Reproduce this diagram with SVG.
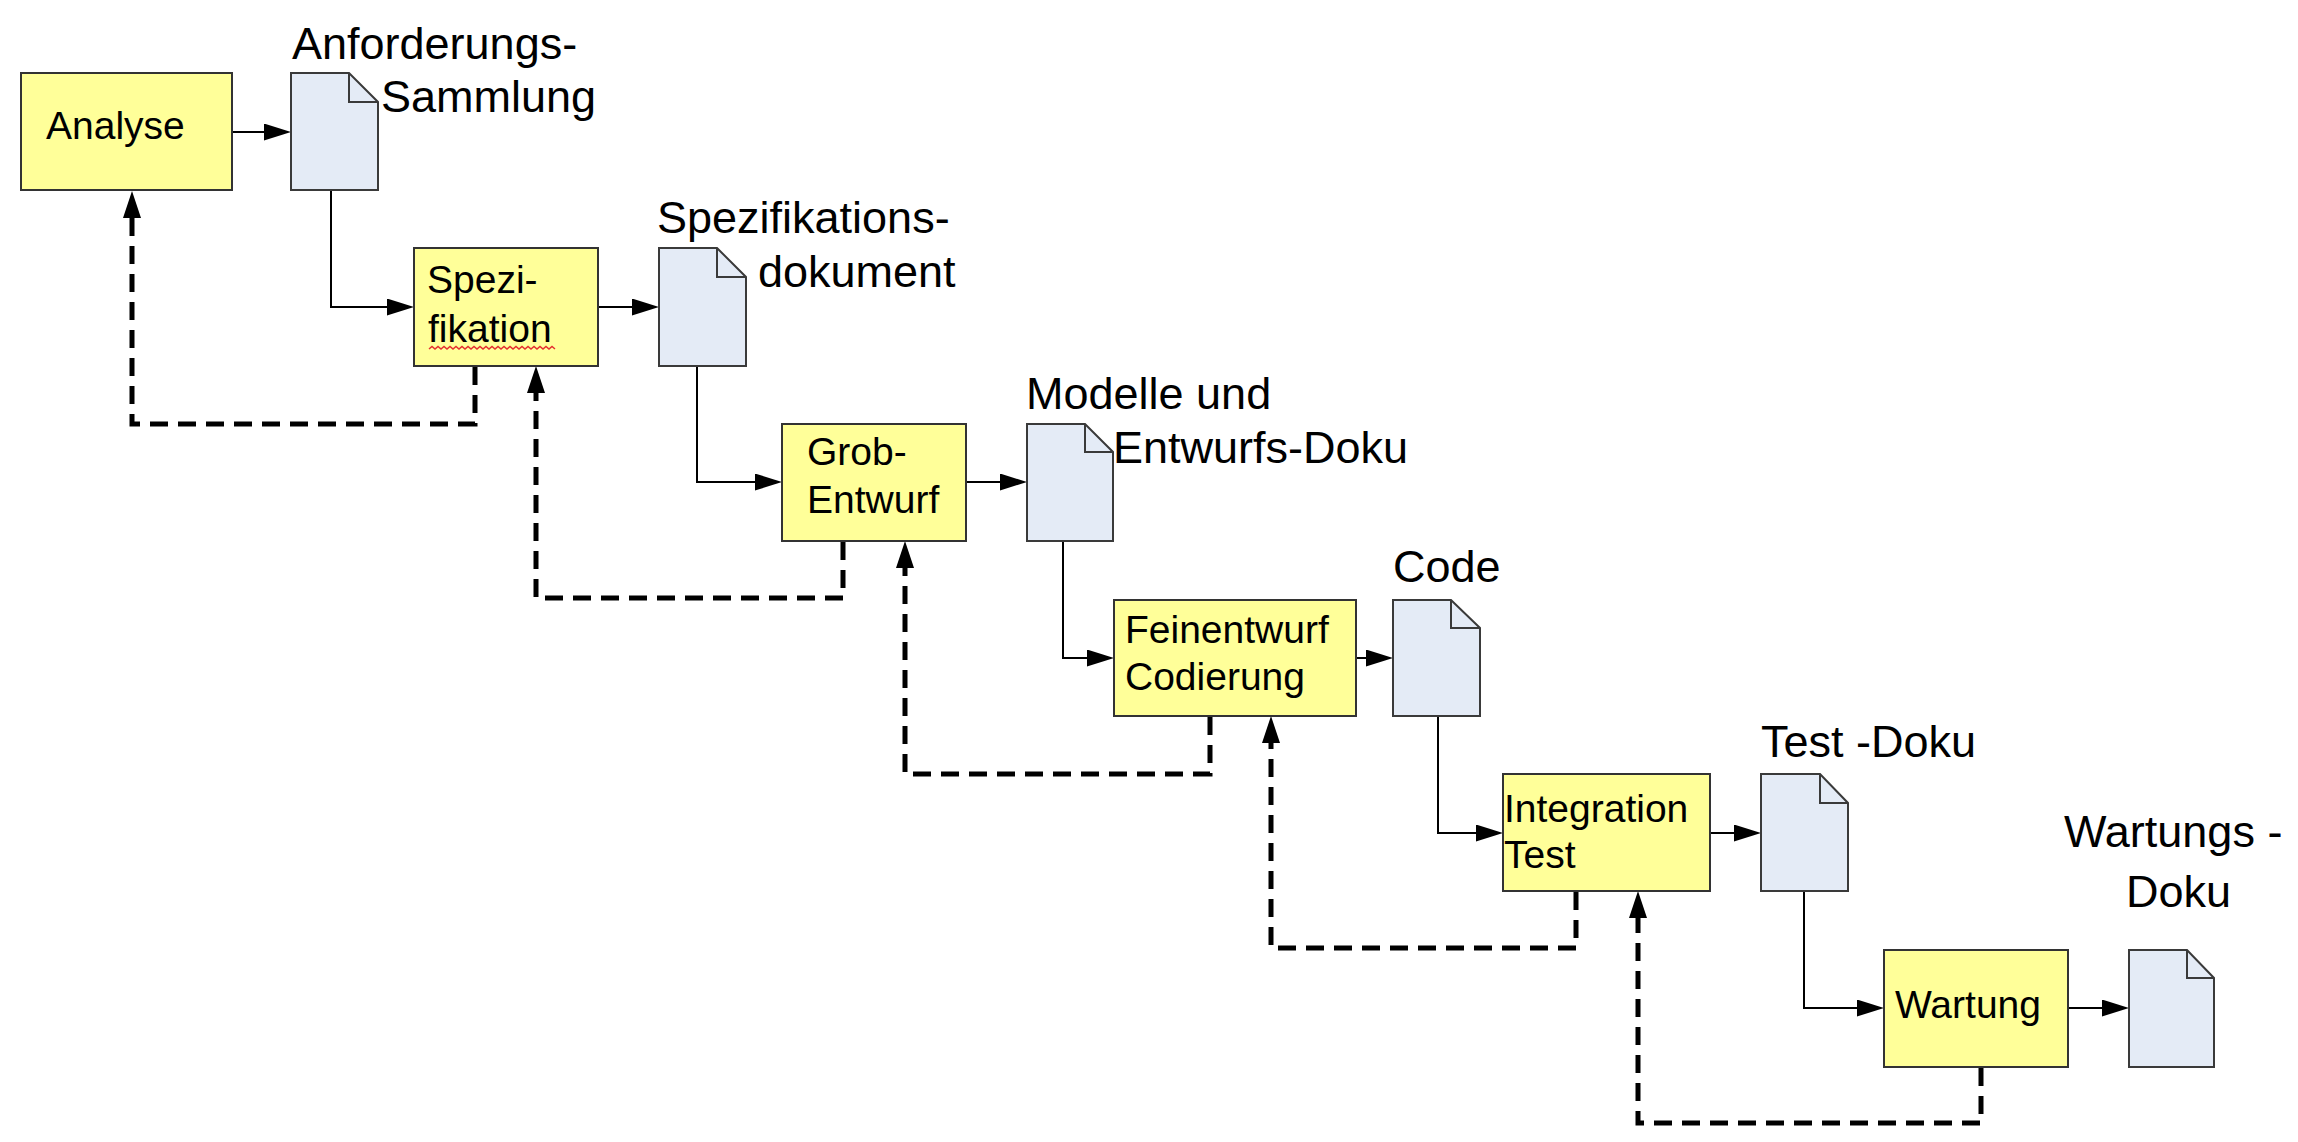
<svg xmlns="http://www.w3.org/2000/svg" width="2298" height="1142" viewBox="0 0 2298 1142">
<style>
.box{fill:#FFFF99;stroke:#333;stroke-width:2}
.doc{fill:#E4EBF6;stroke:#3a3a3a;stroke-width:2;stroke-linejoin:miter}
.fold{fill:none;stroke:#3a3a3a;stroke-width:2}
.bl{font-family:"Liberation Sans",Arial,sans-serif;font-size:39px;fill:#000}
.dl{font-family:"Liberation Sans",Arial,sans-serif;font-size:45px;fill:#000}
.solid{fill:none;stroke:#000;stroke-width:2;marker-end:url(#ah)}
.dash{fill:none;stroke:#000;stroke-width:5;stroke-dasharray:18 10;marker-end:url(#dh)}
</style>
<defs>
<marker id="ah" markerUnits="userSpaceOnUse" markerWidth="27" markerHeight="17" refX="0" refY="8.5" orient="auto">
<path d="M0,0 L27,8.5 L0,17 Z" fill="#000"/>
</marker>
<marker id="dh" markerUnits="userSpaceOnUse" markerWidth="27" markerHeight="18" refX="0" refY="9" orient="auto">
<path d="M0,0 L27,9 L0,18 Z" fill="#000"/>
</marker>
</defs>
<rect width="2298" height="1142" fill="#fff"/>

<g id="connectors">
<path class="solid" d="M232,132 H264"/>
<path class="solid" d="M331,190 V307 H387"/>
<path class="solid" d="M598,307 H632"/>
<path class="solid" d="M697,366 V482 H755"/>
<path class="solid" d="M966,482 H1000"/>
<path class="solid" d="M1063,541 V658 H1087"/>
<path class="solid" d="M1356,658 H1366"/>
<path class="solid" d="M1438,716 V833 H1476"/>
<path class="solid" d="M1710,833 H1734"/>
<path class="solid" d="M1804,891 V1008 H1857"/>
<path class="solid" d="M2068,1008 H2102"/>
<path class="dash" d="M475,367 V424 H132 V218"/>
<path class="dash" d="M843,542 V598 H536 V393"/>
<path class="dash" d="M1210,717 V774 H905 V568"/>
<path class="dash" d="M1576,892 V948 H1271 V743"/>
<path class="dash" d="M1981,1068 V1123 H1638 V918"/>
</g>

<g id="analyse">
<rect class="box" x="21" y="73" width="211" height="117"/>
<text class="bl" x="46" y="139">Analyse</text>
</g>
<g id="doc-anforderungen">
<path class="doc" d="M291,73 H349 L378,102 V190 H291 Z"/>
<path class="fold" d="M349,73 V102 H378"/>
<text class="dl" x="292" y="59">Anforderungs-</text>
<text class="dl" x="381" y="112">Sammlung</text>
</g>

<g id="spezifikation">
<rect class="box" x="414" y="248" width="184" height="118"/>
<text class="bl" x="427" y="293">Spezi-</text>
<text class="bl" x="428" y="342">fikation</text>
<path d="M429,349 l3,-2.5 l3,2.5 l3,-2.5 l3,2.5 l3,-2.5 l3,2.5 l3,-2.5 l3,2.5 l3,-2.5 l3,2.5 l3,-2.5 l3,2.5 l3,-2.5 l3,2.5 l3,-2.5 l3,2.5 l3,-2.5 l3,2.5 l3,-2.5 l3,2.5 l3,-2.5 l3,2.5 l3,-2.5 l3,2.5 l3,-2.5 l3,2.5 l3,-2.5 l3,2.5 l3,-2.5 l3,2.5 l3,-2.5 l3,2.5 l3,-2.5 l3,2.5 l3,-2.5 l3,2.5 l3,-2.5 l3,2.5 l3,-2.5 l3,2.5 l3,-2.5 l3,2.5" fill="none" stroke="#e53030" stroke-width="1.5"/>
</g>
<g id="doc-spezifikation">
<path class="doc" d="M659,248 H717 L746,277 V366 H659 Z"/>
<path class="fold" d="M717,248 V277 H746"/>
<text class="dl" x="657" y="233">Spezifikations-</text>
<text class="dl" x="758" y="287">dokument</text>
</g>

<g id="grobentwurf">
<rect class="box" x="782" y="424" width="184" height="117"/>
<text class="bl" x="807" y="465">Grob-</text>
<text class="bl" x="807" y="513">Entwurf</text>
</g>
<g id="doc-modelle">
<path class="doc" d="M1027,424 H1085 L1113,452 V541 H1027 Z"/>
<path class="fold" d="M1085,424 V452 H1113"/>
<text class="dl" x="1026" y="409">Modelle und</text>
<text class="dl" x="1113" y="463">Entwurfs-Doku</text>
</g>

<g id="feinentwurf">
<rect class="box" x="1114" y="600" width="242" height="116"/>
<text class="bl" x="1125" y="643">Feinentwurf</text>
<text class="bl" x="1125" y="690">Codierung</text>
</g>
<g id="doc-code">
<path class="doc" d="M1393,600 H1451 L1480,628 V716 H1393 Z"/>
<path class="fold" d="M1451,600 V628 H1480"/>
<text class="dl" x="1393" y="582">Code</text>
</g>

<g id="integrationtest">
<rect class="box" x="1503" y="774" width="207" height="117"/>
<text class="bl" x="1504" y="822">Integration</text>
<text class="bl" x="1504" y="868">Test</text>
</g>
<g id="doc-test">
<path class="doc" d="M1761,774 H1820 L1848,803 V891 H1761 Z"/>
<path class="fold" d="M1820,774 V803 H1848"/>
<text class="dl" x="1761" y="757">Test -Doku</text>
</g>

<g id="wartung">
<rect class="box" x="1884" y="950" width="184" height="117"/>
<text class="bl" x="1895" y="1018">Wartung</text>
</g>
<g id="doc-wartung">
<path class="doc" d="M2129,950 H2187 L2214,978 V1067 H2129 Z"/>
<path class="fold" d="M2187,950 V978 H2214"/>
<text class="dl" x="2064" y="847">Wartungs -</text>
<text class="dl" x="2126" y="907">Doku</text>
</g>
</svg>
